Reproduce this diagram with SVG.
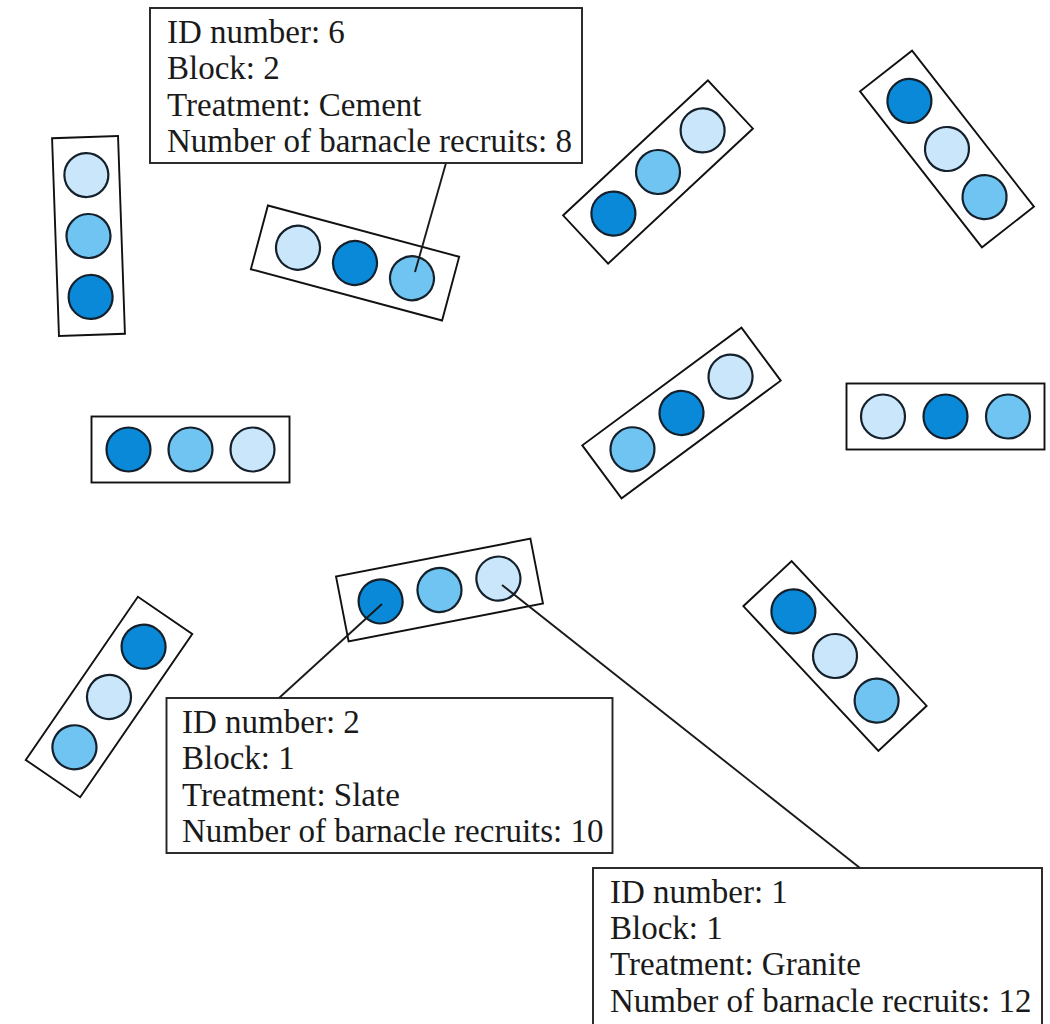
<svg xmlns="http://www.w3.org/2000/svg" width="1050" height="1024" viewBox="0 0 1050 1024">
  <style>
    .tray { fill: #ffffff; stroke: #111111; stroke-width: 1.9; }
    .tile { stroke: #14202b; stroke-width: 2.2; }
    .light { fill: #c9e6fa; }
    .medium { fill: #6fc4f1; }
    .dark { fill: #0a89d9; }
    .label { fill: #ffffff; stroke: #222222; stroke-width: 1.9; }
    .txt { font-family: "Liberation Serif", "Times New Roman", serif; font-size: 33px; fill: #1a1a1a; }
    .lead { stroke: #1a1a1a; stroke-width: 1.9; fill: none; }
  </style>
  <defs>
    <rect id="trayShape" class="tray" x="-99" y="-33" width="198" height="66"/>
  </defs>

  <rect width="1050" height="1024" fill="#ffffff"/>

  <!-- Tile strips: each is a tray holding three tiles -->
  <g id="strip-a" transform="translate(88.5,236) rotate(88)">
    <use href="#trayShape"/>
    <circle class="tile light" cx="-61" cy="0" r="22"/>
    <circle class="tile medium" cx="0" cy="0" r="22"/>
    <circle class="tile dark" cx="61" cy="0" r="22"/>
  </g>
  <g id="strip-b" transform="translate(355,263) rotate(15)">
    <use href="#trayShape"/>
    <circle class="tile light" cx="-59" cy="0" r="22"/>
    <circle class="tile dark" cx="0" cy="0" r="22"/>
    <circle class="tile medium" cx="59" cy="0" r="22"/>
  </g>
  <g id="strip-c" transform="translate(658,172) rotate(-43)">
    <use href="#trayShape"/>
    <circle class="tile dark" cx="-61" cy="0" r="22"/>
    <circle class="tile medium" cx="0" cy="0" r="22"/>
    <circle class="tile light" cx="61" cy="0" r="22"/>
  </g>
  <g id="strip-d" transform="translate(947,149) rotate(52)">
    <use href="#trayShape"/>
    <circle class="tile dark" cx="-61" cy="0" r="22"/>
    <circle class="tile light" cx="0" cy="0" r="22"/>
    <circle class="tile medium" cx="61" cy="0" r="22"/>
  </g>
  <g id="strip-e" transform="translate(190.5,449.5)">
    <use href="#trayShape"/>
    <circle class="tile dark" cx="-62" cy="0" r="22"/>
    <circle class="tile medium" cx="0" cy="0" r="22"/>
    <circle class="tile light" cx="62" cy="0" r="22"/>
  </g>
  <g id="strip-f" transform="translate(681.5,413) rotate(-36.5)">
    <use href="#trayShape"/>
    <circle class="tile medium" cx="-61" cy="0" r="22"/>
    <circle class="tile dark" cx="0" cy="0" r="22"/>
    <circle class="tile light" cx="61" cy="0" r="22"/>
  </g>
  <g id="strip-g" transform="translate(945.5,416.5)">
    <use href="#trayShape"/>
    <circle class="tile light" cx="-62.5" cy="0" r="22"/>
    <circle class="tile dark" cx="0" cy="0" r="22"/>
    <circle class="tile medium" cx="62.5" cy="0" r="22"/>
  </g>
  <g id="strip-h" transform="translate(439.5,590) rotate(-11)">
    <use href="#trayShape"/>
    <circle class="tile dark" cx="-60" cy="0" r="22"/>
    <circle class="tile medium" cx="0" cy="0" r="22"/>
    <circle class="tile light" cx="60" cy="0" r="22"/>
  </g>
  <g id="strip-i" transform="translate(109,697) rotate(-55.5)">
    <use href="#trayShape"/>
    <circle class="tile medium" cx="-61" cy="0" r="22"/>
    <circle class="tile light" cx="0" cy="0" r="22"/>
    <circle class="tile dark" cx="61" cy="0" r="22"/>
  </g>
  <g id="strip-j" transform="translate(835,656) rotate(47)">
    <use href="#trayShape"/>
    <circle class="tile dark" cx="-61" cy="0" r="22"/>
    <circle class="tile light" cx="0" cy="0" r="22"/>
    <circle class="tile medium" cx="61" cy="0" r="22"/>
  </g>

  <!-- Leader lines from the record boxes to individual tiles -->
  <g id="connectors">
    <line class="lead" x1="446" y1="163" x2="415" y2="272"/>
    <line class="lead" x1="279" y1="698" x2="382" y2="604"/>
    <line class="lead" x1="502" y1="585" x2="860" y2="868"/>
  </g>

  <!-- Record boxes -->
  <g id="record-6">
    <rect class="label" x="150" y="8" width="432" height="155"/>
    <text class="txt" x="167" y="42.7">ID number: 6</text>
    <text class="txt" x="167" y="79">Block: 2</text>
    <text class="txt" x="167" y="115.5">Treatment: Cement</text>
    <text class="txt" x="167" y="151.7">Number of barnacle recruits: 8</text>
  </g>
  <g id="record-2">
    <rect class="label" x="166.5" y="698" width="446" height="155"/>
    <text class="txt" x="182" y="733">ID number: 2</text>
    <text class="txt" x="182" y="769.3">Block: 1</text>
    <text class="txt" x="182" y="805.5">Treatment: Slate</text>
    <text class="txt" x="182" y="841.7">Number of barnacle recruits: 10</text>
  </g>
  <g id="record-1">
    <rect class="label" x="593" y="868" width="449" height="170"/>
    <text class="txt" x="610" y="902.7">ID number: 1</text>
    <text class="txt" x="610" y="939">Block: 1</text>
    <text class="txt" x="610" y="975.3">Treatment: Granite</text>
    <text class="txt" x="610" y="1011.7">Number of barnacle recruits: 12</text>
  </g>
</svg>
